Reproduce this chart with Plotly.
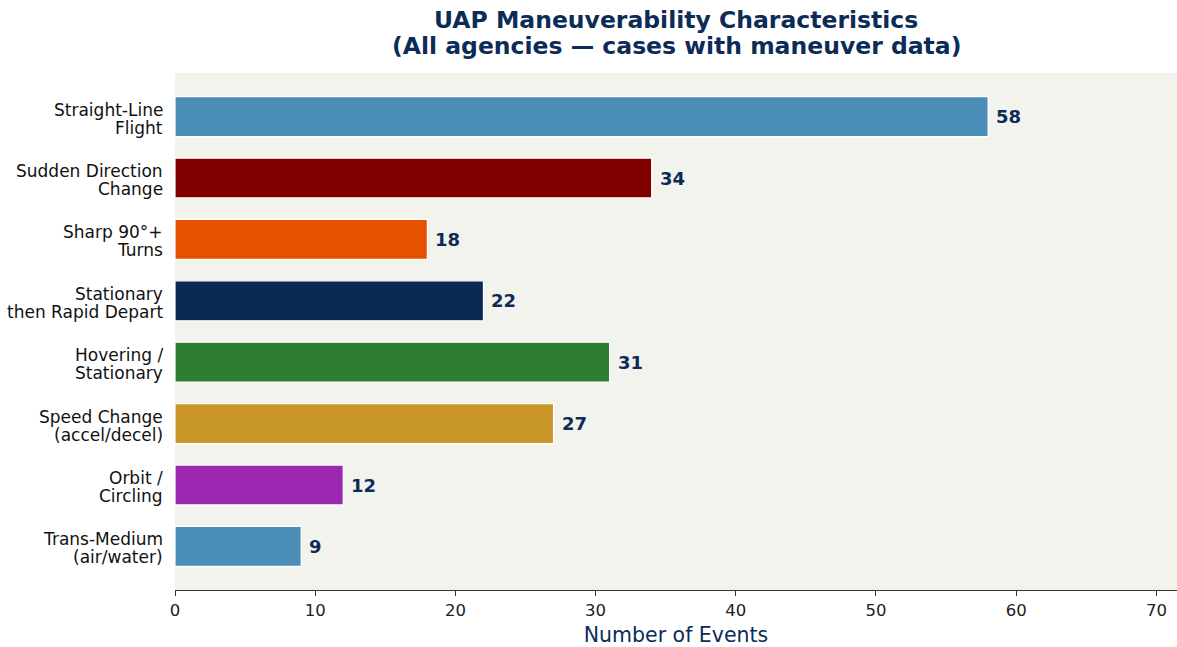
import plotly.graph_objects as go

# Maneuver categories (top to bottom) and event counts
categories = [
    "Straight-Line<br>Flight",
    "Sudden Direction<br>Change",
    "Sharp 90°+<br>Turns",
    "Stationary<br>then Rapid Depart",
    "Hovering /<br>Stationary",
    "Speed Change<br>(accel/decel)",
    "Orbit /<br>Circling",
    "Trans-Medium<br>(air/water)",
]
counts = [58, 34, 18, 22, 31, 27, 12, 9]
bar_colors = [
    "#4a8db7", "#800000", "#e65100", "#0a2a55",
    "#2e7d32", "#c9962a", "#9c27b0", "#4a8db7",
]
title_lines = [
    "UAP Maneuverability Characteristics",
    "(All agencies — cases with maneuver data)",
]

NAVY = "#0d2b57"
FONT = "DejaVu Sans"

fig = go.Figure(
    go.Bar(
        x=counts,
        y=categories,
        orientation="h",
        width=0.65,
        marker=dict(color=bar_colors, line=dict(color="white", width=1.2)),
        hoverinfo="x+y",
    )
)

# Value labels just past the end of each bar
for cat, val in zip(categories, counts):
    fig.add_annotation(
        x=val, y=cat, text=f"<b>{val}</b>", showarrow=False,
        xanchor="left", yanchor="middle", xshift=6,
        font=dict(family=FONT, size=18, color=NAVY),
    )

# Category labels: each line placed separately for tighter line spacing
line_shifts = [7, -11]
for cat in categories:
    for part, shift in zip(cat.split("<br>"), line_shifts):
        fig.add_annotation(
            xref="paper", x=0, y=cat, text=part, showarrow=False,
            xanchor="right", yanchor="middle", xshift=-10, yshift=shift,
            font=dict(family=FONT, size=17, color="#111111"),
        )

# Two-line bold title centred over the plotting area
for line, shift in zip(title_lines, [53, 27]):
    fig.add_annotation(
        xref="paper", yref="paper", x=0.5, y=1,
        xanchor="center", yanchor="middle", yshift=shift,
        text=f"<b>{line}</b>", showarrow=False,
        font=dict(family=FONT, size=23.5, color=NAVY),
    )

fig.update_layout(
    width=1177, height=647,
    margin=dict(l=175, r=0, t=73, b=57),
    paper_bgcolor="white",
    plot_bgcolor="#f3f3ee",
    showlegend=False,
    font=dict(family=FONT, color="#222222"),
)

fig.update_xaxes(
    range=[0, 71.47],
    tickmode="array", tickvals=[0, 10, 20, 30, 40, 50, 60, 70],
    ticks="outside", ticklen=5, tickwidth=1.2, tickcolor="#333333",
    showline=True, linecolor="#333333", linewidth=1.4,
    showgrid=False, zeroline=False,
    tickfont=dict(family=FONT, size=16.5, color="#222222"),
    title=dict(text="Number of Events", font=dict(family=FONT, size=20.5, color=NAVY), standoff=10),
)
fig.update_yaxes(
    autorange=False,
    range=[7.71, -0.71],
    categoryorder="array", categoryarray=categories,
    showline=False, showgrid=False, zeroline=False,
    ticks="", showticklabels=False,
)

fig.write_html("out.html")
